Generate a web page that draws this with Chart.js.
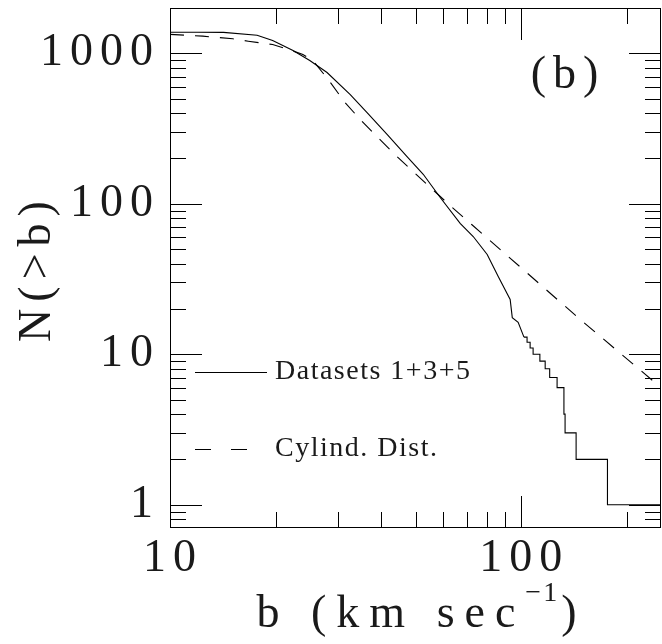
<!DOCTYPE html>
<html>
<head>
<meta charset="utf-8">
<script src="https://cdn.jsdelivr.net/npm/chart.js@4.4.1/dist/chart.umd.min.js"></script>
<style>
  html, body { margin: 0; padding: 0; background: #fff; }
  #wrap { width: 662px; height: 644px; }
</style>
</head>
<body>
<div id="wrap"><canvas id="cumChart"></canvas></div>
<script>
// N(>b), b in km/s
// solid curve, smooth upper part
const solidB = [10, 12, 14.2, 17.7, 19.6, 22.4, 25, 28, 32.6, 36.4, 41.5, 47.3, 52.6, 58.8, 67, 73, 80, 86, 93, 94.3, 98, 101.8];
const solidN = [1380, 1380, 1378, 1318, 1216, 1044, 895, 745, 532, 404, 289, 206, 157, 110, 74, 60.6, 46, 32.9, 23.1, 17.5, 16.3, 13];
// solid curve, staircase tail (integer counts)
const tailB = [101.8, 103.9, 106, 108.1, 113, 117, 120.5, 126.5, 132.3, 133.3, 143.3, 176, 250];
const tailN = [13, 12, 11, 10, 9, 8, 7, 6, 4, 3, 2, 1, 1];
// cylindrical distribution model (dashed)
const cylB = [10, 12.4, 15.1, 16.7, 19.6, 21.5, 23.9, 25.6, 28.2, 31.5, 34.8, 39.1, 44.3, 49.9, 63.6, 72.4, 100, 146, 250];
const cylN = [1335, 1300, 1248, 1203, 1143, 1071, 982, 887, 670, 471, 363, 275, 206, 159, 94.4, 72.5, 37.5, 17.3, 6.0];

const xLabelVals = [10, 100];
const yLabelVals = [1, 10, 100, 1000];
const legendNames = ['Datasets 1+3+5', 'Cylind. Dist.'];
const panelLabel = '(b)';
const xTitle = ['b (km sec', '\u22121', ')'];

const xMin = 10, xMax = 250;
const yMin = 0.7, yMax = 2000;

const serif = "'Liberation Serif', 'Times New Roman', serif";
const ink = '#1a1a1a';

function toPoints(xs, ys) {
    return xs.map((x, i) => ({ x: x, y: ys[i] }));
}

// PGPLOT style box: frame plus inward ticks on all four sides
const frameTicks = {
    id: 'frameTicks',
    beforeLayout(chart) { chart.ctx.letterSpacing = '7px'; },
    beforeDraw(chart) { chart.ctx.letterSpacing = '7px'; },
    afterDraw(chart) {
        const ctx = chart.ctx;
        const a = chart.chartArea;
        const sx = chart.scales.x, sy = chart.scales.y;
        ctx.save();
        ctx.strokeStyle = '#000';
        ctx.lineWidth = 1;
        ctx.strokeRect(a.left + 0.5, a.top + 0.5, a.right - a.left - 1, a.bottom - a.top - 1);

        ctx.beginPath();
        for (let d = 0.1; d <= 1000; d *= 10) {
            for (let k = 1; k <= 9; k++) {
                const v = k * d;
                const len = k === 1 ? 32 : 16;
                if (v > yMin * 1.001 && v < yMax * 0.999) {
                    const p = Math.round(sy.getPixelForValue(v)) + 0.5;
                    ctx.moveTo(a.left, p); ctx.lineTo(a.left + len, p);
                    ctx.moveTo(a.right, p); ctx.lineTo(a.right - len, p);
                }
                if (v > xMin * 1.001 && v < xMax * 0.999) {
                    const p = Math.round(sx.getPixelForValue(v)) + 0.5;
                    ctx.moveTo(p, a.bottom); ctx.lineTo(p, a.bottom - len);
                    ctx.moveTo(p, a.top); ctx.lineTo(p, a.top + len);
                }
            }
        }
        ctx.stroke();

        // legend inside the box
        const lx0 = a.left + 25, lx1 = a.left + 97, tx = a.left + 105;
        const ly = [372, 449];
        ctx.lineWidth = 1;
        ctx.beginPath();
        ctx.moveTo(lx0, ly[0] + 0.5); ctx.lineTo(lx1, ly[0] + 0.5);
        ctx.stroke();
        ctx.setLineDash([16, 20]);
        ctx.beginPath();
        ctx.moveTo(lx0, ly[1] + 0.5); ctx.lineTo(lx1, ly[1] + 0.5);
        ctx.stroke();
        ctx.setLineDash([]);

        ctx.fillStyle = ink;
        ctx.textBaseline = 'middle';
        ctx.textAlign = 'left';
        ctx.letterSpacing = '1.5px';
        ctx.font = '28px ' + serif;
        ctx.fillText(legendNames[0], tx, ly[0]);
        ctx.fillText(legendNames[1], tx, ly[1]);

        ctx.letterSpacing = '7px';
        ctx.textAlign = 'center';
        ctx.font = '46px ' + serif;
        ctx.fillText(panelLabel, 568, 76);

        // x axis title with superscript
        ctx.textAlign = 'left';
        ctx.textBaseline = 'alphabetic';
        const big = '46px ' + serif, small = '28px ' + serif;
        ctx.font = big;
        ctx.letterSpacing = '10px';
        const w0 = ctx.measureText(xTitle[0]).width;
        const w2 = ctx.measureText(xTitle[2]).width;
        ctx.font = small;
        ctx.letterSpacing = '2px';
        const w1 = ctx.measureText(xTitle[1]).width;
        let x = (a.left + a.right) / 2 - (w0 + w1 + w2) / 2 + 5;
        const baseY = 627;
        ctx.fillText(xTitle[1], x + w0, baseY - 26);
        ctx.font = big;
        ctx.letterSpacing = '10px';
        ctx.fillText(xTitle[0], x, baseY);
        ctx.fillText(xTitle[2], x + w0 + w1 + 2, baseY);
        ctx.restore();
    }
};

const chart = new Chart(document.getElementById('cumChart'), {
    type: 'scatter',
    data: {
        datasets: [
            {
                label: legendNames[0],
                data: toPoints(solidB, solidN),
                showLine: true,
                borderColor: '#000',
                borderWidth: 1.1,
                pointRadius: 0,
                tension: 0
            },
            {
                label: legendNames[0] + ' tail',
                data: toPoints(tailB, tailN),
                showLine: true,
                stepped: 'before',
                borderColor: '#000',
                borderWidth: 1.1,
                pointRadius: 0
            },
            {
                label: legendNames[1],
                data: toPoints(cylB, cylN),
                showLine: true,
                borderColor: '#000',
                borderWidth: 1.1,
                borderDash: [14, 11],
                pointRadius: 0,
                tension: 0
            }
        ]
    },
    options: {
        responsive: true,
        maintainAspectRatio: false,
        animation: false,
        events: [],
        layout: { padding: { top: 8, right: 1, left: 0, bottom: 0 } },
        plugins: {
            legend: { display: false },
            tooltip: { enabled: false }
        },
        scales: {
            x: {
                type: 'logarithmic',
                min: xMin,
                max: xMax,
                afterFit: (s) => {
                    s.height = 116;
                    s.paddingLeft = 0;
                    s.paddingRight = 0;
                },
                grid: { display: false, drawTicks: false },
                border: { display: false },
                ticks: {
                    autoSkip: false,
                    maxRotation: 0,
                    minRotation: 0,
                    padding: 3,
                    labelOffset: 3,
                    color: ink,
                    font: { family: serif, size: 46 },
                    callback: (v) => xLabelVals.includes(v) ? String(v) : ''
                },
                title: { display: false }
            },
            y: {
                type: 'logarithmic',
                min: yMin,
                max: yMax,
                afterFit: (s) => {
                    s.width = 170;
                    s.paddingTop = 0;
                    s.paddingBottom = 0;
                },
                grid: { display: false, drawTicks: false },
                border: { display: false },
                ticks: {
                    autoSkip: false,
                    padding: 10,
                    color: ink,
                    font: { family: serif, size: 46 },
                    callback: (v) => yLabelVals.includes(v) ? String(v) : ''
                },
                title: {
                    display: true,
                    text: 'N(>b)',
                    color: ink,
                    font: { family: serif, size: 46 },
                    padding: { top: 10, bottom: 0 }
                }
            }
        }
    },
    plugins: [frameTicks]
});
</script>
</body>
</html>
